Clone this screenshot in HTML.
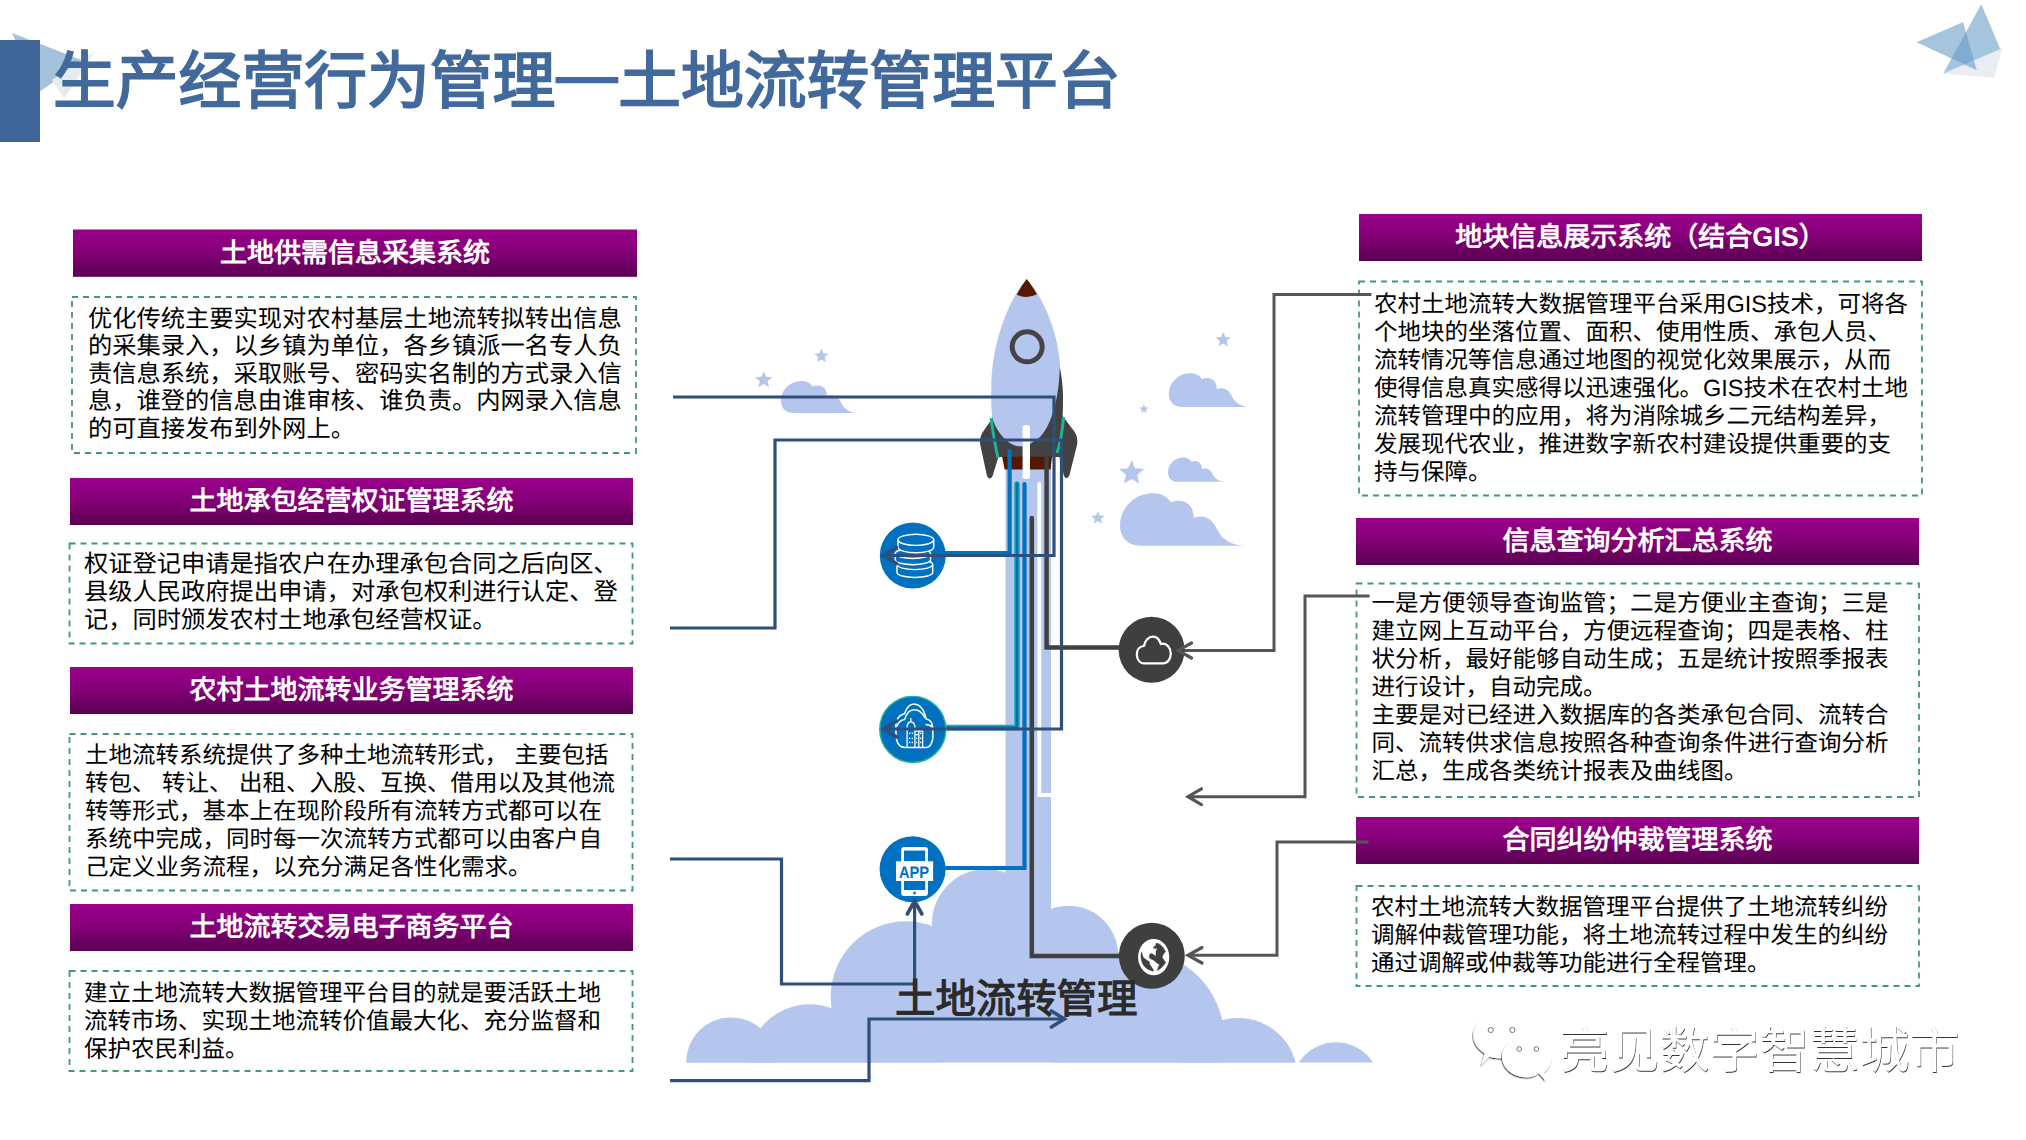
<!DOCTYPE html>
<html lang="zh-CN">
<head>
<meta charset="utf-8">
<title>土地流转管理平台</title>
<style>
html,body{margin:0;padding:0;}
body{width:2026px;height:1140px;position:relative;overflow:hidden;background:#fff;font-family:"Liberation Sans",sans-serif;text-rendering:geometricPrecision;}
#g{position:absolute;left:0;top:0;}
.t{position:absolute;white-space:nowrap;}
.title{left:53px;top:42px;font-size:62.8px;line-height:80px;font-weight:bold;color:#41699b;letter-spacing:0px;}
.hd{color:#fff;font-weight:bold;font-size:27px;line-height:47px;text-align:center;}
.tx{font-size:23.5px;line-height:28px;color:#000;font-weight:500;}
.tb{font-size:24.28px;line-height:27.55px;}
.cap{font-size:40.4px;line-height:48px;font-weight:bold;color:#2b2b2b;}
.wm{font-size:50px;line-height:56px;color:#fff;font-weight:300;text-shadow:0.5px 1.1px 0.5px rgba(0,0,0,0.8);}
</style>
</head>
<body>
<svg id="g" width="2026" height="1140" viewBox="0 0 2026 1140">
<defs>
<linearGradient id="pg" x1="0" y1="0" x2="0" y2="1">
<stop offset="0" stop-color="#9a008b"/>
<stop offset="0.45" stop-color="#86007a"/>
<stop offset="1" stop-color="#5a0051"/>
</linearGradient>
<filter id="ds" x="-20%" y="-20%" width="150%" height="150%"><feDropShadow dx="-0.6" dy="1.2" stdDeviation="0.7" flood-color="#000" flood-opacity="0.75"/></filter>
<clipPath id="cc"><rect x="600" y="800" width="800" height="262.5"/></clipPath>
</defs>
<!-- title decorations -->
<polygon points="12,33 84,61 39,92" fill="#a5c2dd"/>
<polygon points="95,51 64,99 52,80" fill="#e6ebf2"/>
<rect x="0" y="40" width="40" height="102" fill="#3f6696"/>
<!-- top-right triangles -->
<polygon points="1943,73.6 2002.5,47.4 1994,78" fill="#e9edf3"/>
<polygon points="1981.3,4 2000.2,49.1 1943.3,73.6" fill="#649bc6" fill-opacity="0.58"/>
<polygon points="1916.6,42.2 1963.1,22.1 1976.8,70.3" fill="#649bc6" fill-opacity="0.58"/>

<!-- headers -->
<rect x="73" y="229.5" width="564" height="47.3" fill="url(#pg)"/>
<rect x="70" y="478" width="563" height="47" fill="url(#pg)"/>
<rect x="70" y="667" width="563" height="47" fill="url(#pg)"/>
<rect x="70" y="904" width="563" height="47" fill="url(#pg)"/>
<rect x="1359" y="214" width="563" height="47" fill="url(#pg)"/>
<rect x="1356" y="518" width="563" height="47" fill="url(#pg)"/>
<rect x="1356" y="817" width="563" height="47" fill="url(#pg)"/>
<!-- dashed boxes -->
<g fill="none" stroke="#3f9a76" stroke-width="1.8" stroke-dasharray="6 5">
<rect x="72" y="297" width="564" height="156"/>
<rect x="69.5" y="543.5" width="563" height="100"/>
<rect x="69.5" y="734" width="563" height="156.5"/>
<rect x="69.5" y="971" width="563" height="100"/>
<rect x="1359" y="281.5" width="563" height="214"/>
<rect x="1356.5" y="583.5" width="562.5" height="213.5"/>
<rect x="1356.5" y="886" width="562.5" height="100"/>
</g>
<g fill="#b4c6ee">
<path transform="translate(781,381) scale(0.6200,0.6154)" d="M20,52 C8,52 0,44 0,32 C0,20 6,12 13,6.5 C19,2 26,0 34,0 C42,0 48,4 51,9 C53.5,7.8 56.5,7.3 59.5,7.3 C68,7.3 74,14 74,24.5 C76,23.3 78.5,23 81,23 C88.5,23 94,28 97.5,36 C103,47 112,51.5 125,52 Z"/>
<path transform="translate(1168.8,373.3) scale(0.6496,0.6481)" d="M20,52 C8,52 0,44 0,32 C0,20 6,12 13,6.5 C19,2 26,0 34,0 C42,0 48,4 51,9 C53.5,7.8 56.5,7.3 59.5,7.3 C68,7.3 74,14 74,24.5 C76,23.3 78.5,23 81,23 C88.5,23 94,28 97.5,36 C103,47 112,51.5 125,52 Z"/>
<path transform="translate(1168,457.5) scale(0.4584,0.4654)" d="M20,52 C8,52 0,44 0,32 C0,20 6,12 13,6.5 C19,2 26,0 34,0 C42,0 48,4 51,9 C53.5,7.8 56.5,7.3 59.5,7.3 C68,7.3 74,14 74,24.5 C76,23.3 78.5,23 81,23 C88.5,23 94,28 97.5,36 C103,47 112,51.5 125,52 Z"/>
<path transform="translate(1120,493.3) scale(0.9968,1.0077)" d="M20,52 C8,52 0,44 0,32 C0,20 6,12 13,6.5 C19,2 26,0 34,0 C42,0 48,4 51,9 C53.5,7.8 56.5,7.3 59.5,7.3 C68,7.3 74,14 74,24.5 C76,23.3 78.5,23 81,23 C88.5,23 94,28 97.5,36 C103,47 112,51.5 125,52 Z"/>
<polygon points="763.7,371.0 766.1,376.7 772.3,377.2 767.6,381.3 769.0,387.3 763.7,384.1 758.4,387.3 759.8,381.3 755.1,377.2 761.3,376.7"/>
<polygon points="821.4,348.5 823.4,353.3 828.5,353.7 824.6,357.0 825.8,362.1 821.4,359.4 817.0,362.1 818.2,357.0 814.3,353.7 819.4,353.3"/>
<polygon points="1223.2,332.0 1225.3,337.1 1230.8,337.5 1226.6,341.1 1227.9,346.5 1223.2,343.6 1218.5,346.5 1219.8,341.1 1215.6,337.5 1221.1,337.1"/>
<polygon points="1143.8,404.0 1145.1,407.2 1148.6,407.5 1145.9,409.7 1146.7,413.0 1143.8,411.2 1140.9,413.0 1141.7,409.7 1139.0,407.5 1142.5,407.2"/>
<polygon points="1131.6,460.0 1135.0,468.3 1144.0,469.0 1137.2,474.8 1139.2,483.5 1131.6,478.9 1124.0,483.5 1126.0,474.8 1119.2,469.0 1128.2,468.3"/>
<polygon points="1097.9,511.0 1099.8,515.5 1104.6,515.8 1100.9,519.0 1102.0,523.7 1097.9,521.1 1093.8,523.7 1094.9,519.0 1091.2,515.8 1096.0,515.5"/>
<g clip-path="url(#cc)"><circle cx="731" cy="1062.1" r="44.7"/><circle cx="809.8" cy="1067.1" r="62.8"/><circle cx="906" cy="996.6" r="75.3"/><circle cx="986.3" cy="923.6" r="54.4"/><circle cx="1068.7" cy="955.2" r="49.4"/><circle cx="1137" cy="1038" r="87"/><circle cx="1238.4" cy="1077" r="59"/><polygon points="686.3,1063 760.4,1028.4 831.7,1008.3 932,926 1040,915 1125,955 1222.3,1020.2 1295.5,1063"/></g>
<circle clip-path="url(#cc)" cx="1336" cy="1086.7" r="44.4"/>
<rect x="1005.5" y="455" width="45.5" height="480"/>
</g>
<!-- rocket -->
<path fill="#424242" d="M1040,322 C1056,343 1062.8,372 1063,395 C1063,405 1063,411 1062.6,416 L1074,431 Q1078.5,437 1077,445 L1069.5,475 Q1067,481 1064,476 L1059.5,457 L998.4,457 L992.6,476 Q989.5,481 987,476 L980.3,445 Q979,437 983.5,431 L992.6,418 C992.5,410 993,400 995,395 Z"/>
<path fill="#b4c6ee" d="M1026.8,279 C1045,299 1058,335 1059.8,362 C1060,395 1052,425 1040,437 C1033,443 1026,446.3 1020.5,446.3 C1008,446.3 997,432 993,420 C991,410 991,400 991.3,390 C991,345 1008,300 1026.8,279 Z"/>
<path fill="#541800" d="M1026.8,279 C1030.5,284 1034,289 1036.8,294.2 Q1027,299.5 1016.8,294.7 C1019.6,289 1023,284 1026.8,279 Z"/>
<circle cx="1027.2" cy="346.8" r="15" fill="none" stroke="#444" stroke-width="5"/>
<path d="M991,418 Q994,440 998,458" fill="none" stroke="#21b29a" stroke-width="3"/>
<path d="M1063.5,417 Q1062,438 1057,453" fill="none" stroke="#21b29a" stroke-width="3"/>
<path fill="#541800" d="M1002.1,456.8 H1052 L1050.5,469.5 H1004.7 Z"/>
<rect x="1022.6" y="425" width="7.4" height="54" rx="2.5" fill="#fff"/>
<!-- connector lines -->
<g fill="none" stroke-linejoin="miter">
<path stroke="#0070c0" stroke-width="4.2" stroke-linecap="round" d="M1009.6,451 V553 H945"/>
<path stroke="#0070c0" stroke-width="4.2" stroke-linecap="round" d="M1024.5,484 V868 H945"/>
<path stroke="#1fb09a" stroke-width="5.6" stroke-linecap="round" d="M1017,484 V727.6 H945"/>
<path stroke="#0070c0" stroke-width="2.8" stroke-linecap="round" d="M1017,484 V727.6 H945"/>
<path stroke="#fff" stroke-width="4" stroke-linecap="round" d="M1039.3,484 V795 H1051"/>
<path stroke="#404040" stroke-width="4.5" d="M1046.6,457 V647.6 H1125"/>
<path stroke="#404040" stroke-width="4.5" stroke-linecap="round" d="M1031.8,518 V956 H1125"/>
<path stroke="#2f4f7a" stroke-width="3.2" d="M673,397 H1054 V555.5 H882"/>
<path stroke="#2f4f7a" stroke-width="3.2" d="M670,628 H775 V440 H1061.5 V729 H882"/>
<path stroke="#2f4f7a" stroke-width="3.2" d="M670,859 H781.5 V984 H914.6 V901"/>
<path stroke="#2f4f7a" stroke-width="3.2" d="M670,1080.7 H869 V1019 H1064.4"/>
<path stroke="#575453" stroke-width="3" d="M1371.4,294.5 H1274 V650.4 H1179"/>
<path stroke="#575453" stroke-width="3" d="M1369.6,596 H1305 V796.7 H1188"/>
<path stroke="#575453" stroke-width="3" d="M1368.5,842 H1277 V955.3 H1188"/>
</g>
<!-- icons -->
<circle cx="912.8" cy="555.6" r="33" fill="#0070c0"/>
<circle cx="912.8" cy="729.4" r="33" fill="#0070c0" stroke="#1fb09a" stroke-width="1.5"/>
<circle cx="912.6" cy="869.2" r="33" fill="#0070c0"/>
<circle cx="1151.6" cy="649.8" r="33" fill="#3f3f3f"/>
<circle cx="1151.8" cy="955.8" r="33" fill="#3f3f3f"/>
<!-- db icon -->
<g fill="#0070c0" stroke="#fff" stroke-width="1.45">
<path d="M897,564.6 V572.5 A17.85,5 0 0 0 932.7,572.5 V564.6"/><ellipse cx="914.85" cy="564.6" rx="17.85" ry="5"/>
<path d="M895.3,553.5 V559.7 A17.6,5 0 0 0 930.5,559.7 V553.5"/><ellipse cx="912.9" cy="553.5" rx="17.6" ry="5"/>
<path d="M898,539.85 V547.15 A17.85,5.55 0 0 0 933.7,547.15 V539.85"/><ellipse cx="915.85" cy="539.85" rx="17.85" ry="5.55"/>
</g>
<!-- city cloud icon -->
<g fill="none" stroke="#fff" stroke-width="1.5" stroke-linejoin="round">
<path d="M905,747.4 H926.5 C930,747.4 932.9,742 932.9,736.5 L932.7,727 C932.2,722 929.5,719.5 926.2,719 L925.1,715 C923,708.5 918.8,703.9 914.2,703.9 C909.6,703.9 906.2,708.5 904.6,713.7 C900.5,714.5 897.5,717.5 896.2,722 C895.6,725 895.8,735 896.5,739 C897.5,744.5 901,747.4 905,747.4 Z"/>
<path d="M904.6,719.6 C906.5,713.5 910,709.8 914.2,709.8 C918.6,709.8 922.8,713.5 925.1,718.2 M896.8,726.5 C898.3,722.5 901.2,720 904.6,719.6 M925.6,724.6 C928.8,724.8 931.4,726 932.7,727.4"/>
</g>
<g fill="none" stroke="#fff" stroke-width="1.3" stroke-linejoin="round">
<path d="M907.1,747.4 V726 L908.3,722.8 L910.8,721.6 L913.6,722.8 L914.9,726 V747.4 M910.8,721.6 V718 M914.9,731 H922.6 V747.4 M914.9,734.7 H918.8 M918.8,731 V747.4"/>
</g>
<g fill="#fff"><rect x="909" y="732.6" width="1.3" height="1.5"/><rect x="911.7" y="732.6" width="1.3" height="1.5"/><rect x="909" y="737.6" width="1.3" height="1.5"/><rect x="911.7" y="737.6" width="1.3" height="1.5"/><rect x="909" y="741.7" width="1.3" height="1.5"/><rect x="911.7" y="741.7" width="1.3" height="1.5"/><rect x="916.2" y="737.6" width="1.1" height="1.5"/><rect x="916.2" y="741.7" width="1.1" height="1.5"/><rect x="920" y="732.6" width="1.2" height="1.5"/><rect x="920" y="737.6" width="1.2" height="1.5"/><rect x="920" y="741.7" width="1.2" height="1.5"/></g>
<!-- app icon -->
<rect x="901.2" y="847.1" width="26.8" height="48.9" rx="3" fill="#fff"/>
<rect x="904" y="850.6" width="21.2" height="10.7" fill="#0070c0"/>
<rect x="904" y="881" width="21.2" height="9" fill="#0070c0"/>
<rect x="896" y="861.3" width="37.1" height="19.7" fill="#fff"/>
<circle cx="914.6" cy="893" r="1.4" fill="#0070c0"/>
<text x="898.9" y="877.5" textLength="30.2" lengthAdjust="spacingAndGlyphs" font-family="Liberation Sans" font-weight="bold" font-size="16.7" fill="#0070c0">APP</text>
<!-- cloud icon -->
<path fill="none" stroke="#fff" stroke-width="2.2" d="M1144,663.4 H1163 C1167.5,663.4 1170.8,659 1170.8,653.5 C1170.8,648 1167,643.7 1162.5,643.7 L1160.8,644 C1159.5,639.5 1156.5,636.6 1153,636.6 C1148.5,636.6 1145,640.5 1144.2,645.5 L1143.5,646 C1139.5,646.5 1136.8,650 1136.8,654.5 C1136.8,659.5 1140,663.4 1144,663.4 Z"/>
<!-- globe icon -->
<ellipse cx="1153.7" cy="957.1" rx="15.6" ry="18.2" fill="#fff"/>
<path fill="#3f3f3f" stroke="#3f3f3f" stroke-width="0.4" stroke-linejoin="round" d="M1156.2,943.1 Q1158.5,943.6 1160,944.5 Q1162,946 1163.5,948 L1165.5,951.6 L1163.1,954.7 L1162.2,957.1 L1163.9,959.9 L1165.7,962.6 L1163.5,965.5 L1160.5,968.5 L1157.2,970.8 L1158.2,967 L1159.6,965 L1157.6,963.4 L1153.7,960.3 L1150.5,958.7 L1149.3,957.5 L1149.3,955.1 Q1150,953.5 1151.3,953.5 L1153.2,954.2 L1155.7,956.5 L1156,953 L1156,951.6 L1157.2,948.3 L1155.3,948.6 L1153.1,948 L1154.2,946.5 L1155.6,945.5 Z"/>
<path fill="#3f3f3f" stroke="#3f3f3f" stroke-width="0.4" stroke-linejoin="round" d="M1141.8,952 L1143,957.1 L1145.8,959.5 L1149.3,961.8 L1149.7,964.2 L1152.1,967.8 L1153.7,970.5 L1152.9,971.3 Q1150,970.5 1147.8,969.3 Q1145.5,967.8 1143.8,965.8 Q1142,963 1141.4,960.3 Q1140.8,957.5 1141,954.7 Z"/>
<path fill="none" stroke="#2f4f7a" stroke-width="3.2" d="M946,555.5 H884 M946,729 H884"/>
<!-- arrowheads -->
<g fill="none" stroke-linecap="round" stroke-linejoin="miter">
<path stroke="#2f4f7a" stroke-width="3.6" d="M896.5,547.5 L883.5,555.5 L896.5,563.5"/>
<path stroke="#2f4f7a" stroke-width="3.6" d="M896.5,721 L883.5,729 L896.5,737"/>
<path stroke="#2f4f7a" stroke-width="3.6" d="M907.3,914 L914.6,901 L921.9,914"/>
<path stroke="#2f4f7a" stroke-width="3.6" d="M1051.4,1011 L1064.4,1019 L1051.4,1027"/>
<path stroke="#575453" stroke-width="3.2" d="M1191.5,643 L1178,650.4 L1191.5,658"/>
<path stroke="#575453" stroke-width="3.2" d="M1201.4,788.8 L1188,796.7 L1201.4,804.6"/>
<path stroke="#575453" stroke-width="3.2" d="M1202,947.5 L1188,955.3 L1202,963"/>
</g>
<!-- wechat watermark icon -->
<g fill="#fff">
<path filter="url(#ds)" d="M1481,1065.5 L1484.5,1053.5 C1477,1048 1473.2,1042 1473.2,1036 C1473.2,1023.5 1485.5,1013.6 1500.8,1013.6 C1516,1013.6 1528.4,1023.5 1528.4,1036 C1528.4,1048.5 1516,1058.5 1500.8,1058.5 C1496.5,1058.5 1492.5,1057.8 1489.5,1056.8 Z"/>
<path filter="url(#ds)" d="M1545.5,1081 L1539,1073.5 C1535,1076 1531,1077.5 1527,1077.5 C1513,1077.5 1502,1068.3 1502,1056.8 C1502,1045.3 1513,1036 1527,1036 C1541,1036 1552,1045.3 1552,1056.8 C1552,1063 1549,1068.5 1544,1072.5 Z"/>
</g>
<g fill="#fff" stroke="#666" stroke-width="0.9">
<circle cx="1490.7" cy="1030" r="2.6"/><circle cx="1512.4" cy="1030" r="2.6"/>
<circle cx="1519.2" cy="1049" r="2.3"/><circle cx="1536.3" cy="1049" r="2.3"/>
</g>
</svg>

<div class="t title">生产经营行为管理<span style="position:relative;top:-6px">—</span>土地流转管理平台</div>

<div class="t hd" style="left:73px;top:230px;width:564px;">土地供需信息采集系统</div>
<div class="t hd" style="left:70px;top:478px;width:563px;">土地承包经营权证管理系统</div>
<div class="t hd" style="left:70px;top:667px;width:563px;">农村土地流转业务管理系统</div>
<div class="t hd" style="left:70px;top:904px;width:563px;">土地流转交易电子商务平台</div>
<div class="t hd" style="left:1359px;top:214px;width:563px;">地块信息展示系统（结合GIS）</div>
<div class="t hd" style="left:1356px;top:518px;width:563px;">信息查询分析汇总系统</div>
<div class="t hd" style="left:1356px;top:817px;width:563px;">合同纠纷仲裁管理系统</div>

<div class="t tx tb" style="left:88px;top:305.5px;">优化传统主要实现对农村基层土地流转拟转出信息<br>的采集录入，以乡镇为单位，各乡镇派一名专人负<br>责信息系统，采取账号、密码实名制的方式录入信<br>息，谁登的信息由谁审核、谁负责。内网录入信息<br>的可直接发布到外网上。</div>
<div class="t tx tb" style="left:84px;top:550.8px;line-height:28.35px;">权证登记申请是指农户在办理承包合同之后向区、<br>县级人民政府提出申请，对承包权利进行认定、登<br>记，同时颁发农村土地承包经营权证。</div>
<div class="t tx" style="left:85px;top:741px;">土地流转系统提供了多种土地流转形式， 主要包括<br>转包、 转让、 出租、入股、互换、借用以及其他流<br>转等形式，基本上在现阶段所有流转方式都可以在<br>系统中完成，同时每一次流转方式都可以由客户自<br>己定义业务流程，以充分满足各性化需求。</div>
<div class="t tx" style="left:84px;top:979.3px;">建立土地流转大数据管理平台目的就是要活跃土地<br>流转市场、实现土地流转价值最大化、充分监督和<br>保护农民利益。</div>
<div class="t tx" style="left:1374px;top:289.6px;">农村土地流转大数据管理平台采用GIS技术，可将各<br>个地块的坐落位置、面积、使用性质、承包人员、<br>流转情况等信息通过地图的视觉化效果展示，从而<br>使得信息真实感得以迅速强化。GIS技术在农村土地<br>流转管理中的应用，将为消除城乡二元结构差异，<br>发展现代农业，推进数字新农村建设提供重要的支<br>持与保障。</div>
<div class="t tx" style="left:1371.5px;top:589px;">一是方便领导查询监管；二是方便业主查询；三是<br>建立网上互动平台，方便远程查询；四是表格、柱<br>状分析，最好能够自动生成；五是统计按照季报表<br>进行设计，自动完成。<br>主要是对已经进入数据库的各类承包合同、流转合<br>同、流转供求信息按照各种查询条件进行查询分析<br>汇总，生成各类统计报表及曲线图。</div>
<div class="t tx" style="left:1371px;top:892.7px;">农村土地流转大数据管理平台提供了土地流转纠纷<br>调解仲裁管理功能，将土地流转过程中发生的纠纷<br>通过调解或仲裁等功能进行全程管理。</div>

<div class="t cap" style="left:895px;top:974.5px;">土地流转管理</div>
<div class="t wm" style="left:1559.5px;top:1022.5px;">亮见数字智慧城市</div>
</body>
</html>
